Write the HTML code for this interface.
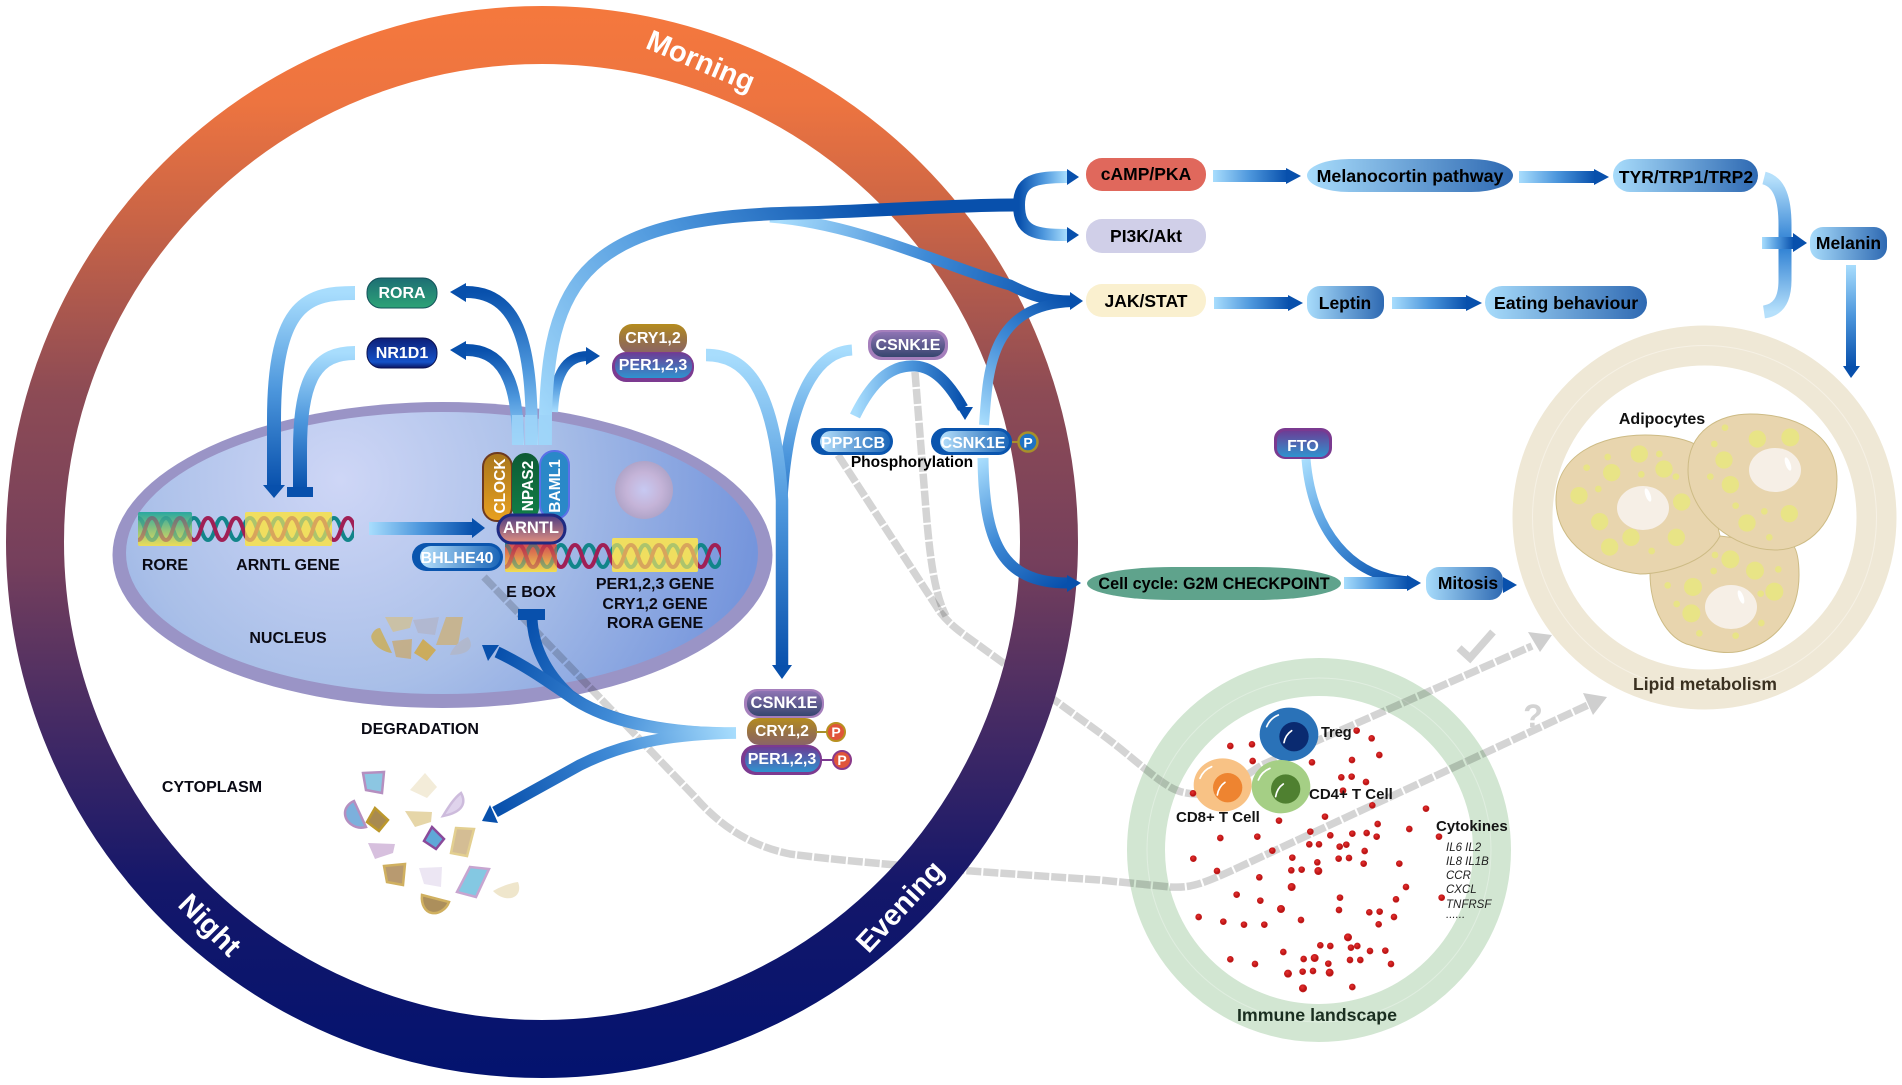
<!DOCTYPE html>
<html><head><meta charset="utf-8"><style>
html,body{margin:0;padding:0;background:#fff;width:1902px;height:1085px;overflow:hidden}
svg{display:block}
text{font-family:"Liberation Sans",sans-serif;font-weight:bold}
</style></head><body>
<svg xmlns="http://www.w3.org/2000/svg" width="1902" height="1085" viewBox="0 0 1902 1085">
<defs>
<linearGradient id="ring" gradientUnits="userSpaceOnUse" x1="0" y1="6" x2="0" y2="1078">
<stop offset="0" stop-color="#f5783d"/><stop offset=".09" stop-color="#ed7440"/><stop offset=".2" stop-color="#c96446"/><stop offset=".36" stop-color="#8d4b55"/><stop offset=".52" stop-color="#753f5c"/><stop offset=".68" stop-color="#412965"/><stop offset=".82" stop-color="#14176a"/><stop offset="1" stop-color="#03136f"/>
</linearGradient>
<radialGradient id="nuc" gradientUnits="userSpaceOnUse" cx="340" cy="480" r="420">
<stop offset="0" stop-color="#ced6f6"/><stop offset=".5" stop-color="#a9bfe8"/><stop offset="1" stop-color="#7595dc"/>
</radialGradient>
<radialGradient id="nucleolus"><stop offset="0" stop-color="#c7c9f2"/><stop offset=".6" stop-color="#c5b4d8"/><stop offset="1" stop-color="#b0a4c8"/></radialGradient>
<linearGradient id="lr"><stop offset="0" stop-color="#a8ddfd"/><stop offset=".5" stop-color="#4c96dc"/><stop offset="1" stop-color="#0850ac"/></linearGradient>
<linearGradient id="rl" x1="1" x2="0" y1="0" y2="0"><stop offset="0" stop-color="#a8ddfd"/><stop offset=".5" stop-color="#4c96dc"/><stop offset="1" stop-color="#0850ac"/></linearGradient>
<linearGradient id="td" x1="0" x2="0" y1="0" y2="1"><stop offset="0" stop-color="#a8ddfd"/><stop offset=".5" stop-color="#4c96dc"/><stop offset="1" stop-color="#0850ac"/></linearGradient>
<linearGradient id="bt" x1="0" x2="0" y1="1" y2="0"><stop offset="0" stop-color="#a8ddfd"/><stop offset=".5" stop-color="#4c96dc"/><stop offset="1" stop-color="#0850ac"/></linearGradient>
<linearGradient id="brk" x1="0" x2="0" y1="0" y2="1"><stop offset="0" stop-color="#b6e0fb"/><stop offset=".5" stop-color="#2b7ed2"/><stop offset="1" stop-color="#b6e0fb"/></linearGradient>
<linearGradient id="big" gradientUnits="userSpaceOnUse" x1="544" y1="445" x2="880" y2="207"><stop offset="0" stop-color="#a8ddfd"/><stop offset=".55" stop-color="#4c96dc"/><stop offset="1" stop-color="#0850ac"/></linearGradient>
<linearGradient id="jak" gradientUnits="userSpaceOnUse" x1="780" y1="218" x2="1070" y2="301"><stop offset="0" stop-color="#a8ddfd"/><stop offset=".5" stop-color="#3f8ad6"/><stop offset="1" stop-color="#0850ac"/></linearGradient>
<linearGradient id="up1" gradientUnits="userSpaceOnUse" x1="984" y1="425" x2="1072" y2="302"><stop offset="0" stop-color="#a8ddfd"/><stop offset=".55" stop-color="#3f8ad6"/><stop offset="1" stop-color="#0850ac"/></linearGradient>
<linearGradient id="dn1" gradientUnits="userSpaceOnUse" x1="983" y1="458" x2="1068" y2="583"><stop offset="0" stop-color="#a8ddfd"/><stop offset=".5" stop-color="#3f8ad6"/><stop offset="1" stop-color="#0850ac"/></linearGradient>
<linearGradient id="fto" gradientUnits="userSpaceOnUse" x1="1306" y1="459" x2="1400" y2="581"><stop offset="0" stop-color="#a8ddfd"/><stop offset=".5" stop-color="#4c96dc"/><stop offset="1" stop-color="#0850ac"/></linearGradient>
<linearGradient id="y1" gradientUnits="userSpaceOnUse" x1="736" y1="733" x2="500" y2="650"><stop offset="0" stop-color="#a8ddfd"/><stop offset=".5" stop-color="#3f8ad6"/><stop offset="1" stop-color="#0850ac"/></linearGradient>
<linearGradient id="y2" gradientUnits="userSpaceOnUse" x1="736" y1="733" x2="500" y2="815"><stop offset="0" stop-color="#a8ddfd"/><stop offset=".5" stop-color="#3f8ad6"/><stop offset="1" stop-color="#0850ac"/></linearGradient>
<linearGradient id="y3" gradientUnits="userSpaceOnUse" x1="736" y1="733" x2="532" y2="618"><stop offset="0" stop-color="#a8ddfd"/><stop offset=".45" stop-color="#3f8ad6"/><stop offset="1" stop-color="#0850ac"/></linearGradient>
<linearGradient id="node" x1="0" x2="1" y1="0" y2="0"><stop offset="0" stop-color="#a8dcfb"/><stop offset="1" stop-color="#2e69b2"/></linearGradient>
<linearGradient id="pbl" x1="0" x2="1"><stop offset="0" stop-color="#b6e0fb"/><stop offset="1" stop-color="#1b66b8"/></linearGradient>
<linearGradient id="rora" x1="0" x2="0" y1="0" y2="1"><stop offset="0" stop-color="#1d6e74"/><stop offset="1" stop-color="#2da377"/></linearGradient>
<linearGradient id="nr" x1="0" x2="0" y1="0" y2="1"><stop offset="0" stop-color="#0d1f78"/><stop offset=".8" stop-color="#1552c8"/><stop offset="1" stop-color="#0a1560"/></linearGradient>
<linearGradient id="cry" x1="0" x2="0" y1="0" y2="1"><stop offset="0" stop-color="#b58c1e"/><stop offset=".6" stop-color="#96704a"/><stop offset="1" stop-color="#8a6468"/></linearGradient>
<linearGradient id="per" x1="0" x2="0" y1="0" y2="1"><stop offset="0" stop-color="#6b3e96"/><stop offset="1" stop-color="#2f93cf"/></linearGradient>
<linearGradient id="csn" x1="0" x2="0" y1="0" y2="1"><stop offset="0" stop-color="#8e74b4"/><stop offset="1" stop-color="#36466f"/></linearGradient>
<linearGradient id="clk" x1="0" x2="0" y1="0" y2="1"><stop offset="0" stop-color="#a8761c"/><stop offset="1" stop-color="#e8a020"/></linearGradient>
<linearGradient id="npa" x1="0" x2="0" y1="0" y2="1"><stop offset="0" stop-color="#0d5a34"/><stop offset="1" stop-color="#128048"/></linearGradient>
<linearGradient id="arn" x1="0" x2="0" y1="0" y2="1"><stop offset="0" stop-color="#4a3a82"/><stop offset="1" stop-color="#e29080"/></linearGradient>
<linearGradient id="ebox" x1="0" x2="0" y1="0" y2="1"><stop offset="0" stop-color="#d84040" stop-opacity=".8"/><stop offset="1" stop-color="#f0de50"/></linearGradient>
<linearGradient id="rbox" x1="0" x2="0" y1="0" y2="1"><stop offset="0" stop-color="#2aa8a0"/><stop offset="1" stop-color="#ecdc58"/></linearGradient>
<pattern id="dna" patternUnits="userSpaceOnUse" width="28" height="26" x="0" y="0">
<path d="M0 2C7 2 7 24 14 24S21 2 28 2" fill="none" stroke="#12858a" stroke-width="4"/>
<path d="M0 24C7 24 7 2 14 2S21 24 28 24" fill="none" stroke="#a01f55" stroke-width="4"/>
</pattern>
<radialGradient id="dot" cx=".4" cy=".35"><stop offset="0" stop-color="#e83030"/><stop offset="1" stop-color="#b81414"/></radialGradient>
</defs>

<rect width="1902" height="1085" fill="#fff"/>

<!-- nucleus -->
<ellipse cx="442.5" cy="555" rx="330" ry="153" fill="#9a94c6"/>
<ellipse cx="442" cy="553" rx="316" ry="141" fill="url(#nuc)"/>
<circle cx="644" cy="490" r="29" fill="url(#nucleolus)"/>

<!-- satellite rings -->
<circle cx="1319" cy="850" r="173" fill="none" stroke="#d2e6d2" stroke-width="38"/>
<circle cx="1319" cy="850" r="172" fill="none" stroke="#e0eee0" stroke-width="1"/>
<circle cx="1704.5" cy="517.5" r="172" fill="none" stroke="#efe8d6" stroke-width="40"/>
<circle cx="1704.5" cy="517.5" r="172" fill="none" stroke="#f6f1e5" stroke-width="1"/>

<!-- grey dashed connectors -->
<g fill="none" stroke="#000" stroke-opacity=".17" stroke-width="7.5" stroke-dasharray="15 2">
<path d="M838 455L940 612C948 622 955 628 966 636L1100 733C1130 755 1150 775 1170 787C1180 793 1190 794 1200 794C1225 794 1245 775 1262 765L1532 646"/>
<path d="M915 372L926 510C930 560 935 595 946 616"/>
<path d="M484 577L695 797C715 820 745 845 790 854C850 862 950 870 1100 880L1170 887C1190 888 1200 885 1233 870L1588 705"/>
</g>
<polygon points="1552,635 1528,632 1540,652" fill="#cfcfcf"/>
<polygon points="1607,697 1583,693 1593,715" fill="#cfcfcf"/>
<path d="M1459 648L1470 658L1493 632" fill="none" stroke="#d3d3d3" stroke-width="7.5"/>
<text x="1533" y="727" font-size="32" text-anchor="middle" fill="#d3d3d3">?</text>

<!-- main ring -->
<circle cx="542" cy="542" r="507" fill="none" stroke="url(#ring)" stroke-width="58"/>
<text transform="translate(697 70) rotate(23)" font-size="29" fill="#fff" text-anchor="middle">Morning</text>
<text transform="translate(203 932) rotate(45)" font-size="29" fill="#fff" text-anchor="middle">Night</text>
<text transform="translate(907 913) rotate(-47)" font-size="29" fill="#fff" text-anchor="middle">Evening</text>

<!-- DNA -->
<rect x="138" y="512" width="54" height="34" rx="2" fill="url(#rbox)"/>
<rect x="245" y="512" width="87" height="34" rx="2" fill="#f0de60"/>
<g transform="translate(138 516)"><rect width="216" height="26" fill="url(#dna)"/></g>
<rect x="138" y="512" width="54" height="34" rx="2" fill="url(#rbox)" fill-opacity=".6"/>
<rect x="245" y="512" width="87" height="34" rx="2" fill="#f0de60" fill-opacity=".7"/>
<rect x="505" y="544" width="52" height="28" rx="2" fill="url(#ebox)"/>
<rect x="612" y="538" width="86" height="34" rx="2" fill="#f0de60"/>
<g transform="translate(505 543)"><rect width="216" height="26" fill="url(#dna)"/></g>
<rect x="505" y="544" width="52" height="28" rx="2" fill="url(#ebox)" fill-opacity=".6"/>
<rect x="612" y="538" width="86" height="34" rx="2" fill="#f0de60" fill-opacity=".7"/>

<!-- nucleus debris -->
<g opacity=".72">
<polygon points="385,617 413,617 410,628 393,632" fill="#d4c08c"/>
<polygon points="413,620 439,617 435,635 418,633" fill="#b2b4c8"/>
<polygon points="446,617 463,617 458,645 436,645" fill="#d0b070"/>
<path d="M380 628L392 653C380 652 368 640 372 634C374 630 377 628 380 628Z" fill="#d0ab40"/>
<polygon points="392,641 412,639 411,659 396,657" fill="#cba868"/>
<polygon points="423,639 436,650 427,661 414,653" fill="#d8a428"/>
<path d="M468 637C474 645 472 655 450 655C452 648 460 640 468 637Z" fill="#b4b6c4"/>
</g>

<!-- cytoplasm debris -->
<g stroke-width="2.5">
<polygon points="363,773 384,772 382,793 366,790" fill="#8cc6e2" stroke="#b58fc0"/>
<polygon points="425,773 437,787 427,798 410,790" fill="#f3ecd9"/>
<path d="M461 793C466 802 464 812 443 816C448 808 454 798 461 793Z" fill="#dfd3ec" stroke="#cdbbdc"/>
<path d="M354 801L366 827C355 830 345 822 345 813C345 808 349 803 354 801Z" fill="#7cb0dc" stroke="#b58fc0"/>
<polygon points="375,808 388,820 379,831 367,822" fill="#a88a50" stroke="#bc982c"/>
<polygon points="405,811 432,812 431,822 415,827" fill="#e6d6a8"/>
<polygon points="432,827 444,839 436,849 424,841" fill="#5fa8d8" stroke="#8a4a9a"/>
<polygon points="456,828 474,829 467,856 451,853" fill="#d4bd94" stroke="#e3cf90"/>
<polygon points="368,843 395,844 393,853 375,859" fill="#d7c0de"/>
<polygon points="384,866 405,864 403,885 387,882" fill="#b89a70" stroke="#d0b060"/>
<polygon points="419,868 442,867 441,887 424,884" fill="#ece6f3"/>
<polygon points="470,867 489,869 476,897 457,892" fill="#84c8e2" stroke="#c7a5d0"/>
<path d="M518 882C522 892 516 900 505 898C500 897 496 894 493 891C500 887 510 883 518 882Z" fill="#efe6cc"/>
<path d="M422 895L449 902C446 910 438 914 432 913C425 912 421 904 422 895Z" fill="#ac8f5c" stroke="#d0b060"/>
</g>

<!-- arrows -->
<g fill="none">
<path d="M355 293C310 293 274 300 274 420L274 488" stroke="url(#td)" stroke-width="14"/>
<path d="M355 353C318 353 300 375 300 450L300 490" stroke="url(#td)" stroke-width="14"/>
<path d="M518 445C518 395 510 350 466 350" stroke="url(#bt)" stroke-width="12"/>
<path d="M532 445C532 360 525 292 466 292" stroke="url(#bt)" stroke-width="12"/>
<path d="M553 412C555 375 565 356 588 356" stroke="url(#bt)" stroke-width="10"/>
<path d="M770 217C860 224 950 268 1010 285C1030 295 1045 301 1072 301" stroke="url(#jak)" stroke-width="11"/>
<path d="M545 445C545 290 570 216 800 213C880 211 950 205 1014 205" stroke="url(#big)" stroke-width="13"/>
<path d="M1067 177C1035 177 1019 180 1019 205" stroke="url(#rl)" stroke-width="12"/>
<path d="M1067 235C1035 235 1019 232 1019 205" stroke="url(#rl)" stroke-width="12"/>
<path d="M984 425C988 370 990 305 1072 302" stroke="url(#up1)" stroke-width="10"/>
<path d="M983 458C984 540 1000 583 1068 583" stroke="url(#dn1)" stroke-width="11"/>
<path d="M855 416C875 375 895 365 915 366C935 367 950 385 963 408" stroke="url(#lr)" stroke-width="11"/>
<path d="M852 350C815 352 788 400 782 500L782 560" stroke="url(#td)" stroke-width="11"/>
<path d="M706 355C745 355 775 385 782 500L782 668" stroke="url(#td)" stroke-width="12.5"/>
<path d="M1306 459C1312 530 1350 578 1410 581" stroke="url(#fto)" stroke-width="9"/>
<path d="M736 733C680 733 610 725 570 695C545 672 533 645 532 618" stroke="url(#y3)" stroke-width="11"/>
<path d="M736 733C680 733 620 728 575 700C550 683 525 665 497 652" stroke="url(#y1)" stroke-width="11.5"/>
<path d="M736 733C680 734 630 740 580 765L495 812" stroke="url(#y2)" stroke-width="11.5"/>
<path d="M1764 178C1780 182 1785 200 1785 225L1785 280C1785 300 1778 310 1764 312" stroke="url(#brk)" stroke-width="13"/>
</g>
<rect x="512" y="415" width="11" height="30" fill="#9ed3f8" opacity=".85"/>
<rect x="525" y="415" width="12" height="30" fill="#9ed3f8" opacity=".85"/>
<rect x="539" y="415" width="13" height="30" fill="#9ed3f8" opacity=".85"/>

<!-- straight gradient arrows -->
<g fill="url(#lr)">
<rect x="369" y="522" width="104" height="13"/>
<rect x="1213" y="170" width="74" height="12"/>
<rect x="1519" y="171" width="76" height="12"/>
<rect x="1214" y="297" width="75" height="12"/>
<rect x="1392" y="297" width="75" height="12"/>
<rect x="1344" y="577" width="64" height="12"/>
<rect x="1762" y="237" width="32" height="12"/>
</g>
<rect x="1846" y="265" width="10" height="102" fill="url(#td)"/>

<!-- arrow heads -->
<g fill="#0850ac">
<polygon points="263,485 285,485 274,498"/>
<rect x="287" y="487" width="26" height="10"/>
<polygon points="450,292 466,283 466,302"/>
<polygon points="450,350 466,341 466,360"/>
<polygon points="600,356 586,347 586,365"/>
<polygon points="1079,177 1067,169 1067,185"/>
<polygon points="1079,235 1067,227 1067,243"/>
<polygon points="1083,301 1070,292 1070,310"/>
<polygon points="1081,583 1067,575 1067,592"/>
<polygon points="957,407 973,407 965,420"/>
<polygon points="782,679 772,665 792,665"/>
<rect x="518" y="609" width="27" height="11"/>
<polygon points="482,645 499,645 488,661"/>
<polygon points="482,821 490,805 498,823"/>
<polygon points="485,528 472,518 472,538"/>
<polygon points="1301,176 1286,168 1286,184"/>
<polygon points="1609,177 1594,169 1594,185"/>
<polygon points="1303,303 1288,295 1288,311"/>
<polygon points="1482,303 1466,295 1466,311"/>
<polygon points="1421,583 1407,575 1407,591"/>
<polygon points="1517,585 1503,577 1503,593"/>
<polygon points="1807,243 1793,233 1793,252"/>
<polygon points="1851,378 1843,366 1860,366"/>
</g>

<!-- right nodes -->
<rect x="1086" y="158" width="120" height="33" rx="16" fill="#e0685c"/>
<text x="1146" y="180" font-size="17.5" text-anchor="middle">cAMP/PKA</text>
<rect x="1086" y="219" width="120" height="34" rx="16" fill="#d0cfe8"/>
<text x="1146" y="242" font-size="17.5" text-anchor="middle">PI3K/Akt</text>
<rect x="1086" y="284" width="120" height="33" rx="16" fill="#faf0cf"/>
<text x="1146" y="307" font-size="17.5" text-anchor="middle">JAK/STAT</text>
<rect x="1307" y="159" width="206" height="33" rx="42" ry="16.5" fill="url(#node)"/>
<text x="1410" y="182" font-size="17.8" text-anchor="middle">Melanocortin pathway</text>
<rect x="1613" y="159" width="145" height="33" rx="17" fill="url(#node)"/>
<text x="1686" y="183" font-size="17.5" text-anchor="middle">TYR/TRP1/TRP2</text>
<rect x="1810" y="227" width="77" height="33" rx="13" fill="url(#node)"/>
<text x="1848.5" y="249" font-size="17.5" text-anchor="middle">Melanin</text>
<rect x="1307" y="286" width="77" height="33" rx="13" fill="url(#node)"/>
<text x="1345" y="309" font-size="17.5" text-anchor="middle">Leptin</text>
<rect x="1485" y="286" width="162" height="33" rx="17" fill="url(#node)"/>
<text x="1566" y="309" font-size="17.8" text-anchor="middle">Eating behaviour</text>
<rect x="1087" y="567" width="254" height="33" rx="85" ry="16.5" fill="#5fa38c"/>
<text x="1214" y="589" font-size="16.2" text-anchor="middle">Cell cycle: G2M CHECKPOINT</text>
<rect x="1426" y="567" width="77" height="33" rx="13" fill="url(#node)"/>
<text x="1468" y="589" font-size="17.5" text-anchor="middle">Mitosis</text>
<rect x="1274" y="428" width="58" height="31" rx="11" fill="#7a3a90"/>
<rect x="1277" y="431" width="52" height="26" rx="9" fill="url(#per)"/>
<text x="1303" y="451" font-size="16" fill="#fff" text-anchor="middle">FTO</text>

<!-- pathway nodes -->
<rect x="367" y="278" width="70" height="30" rx="14" fill="url(#rora)" stroke="#14525a" stroke-width="1"/>
<text x="402" y="298" font-size="16" fill="#fff" text-anchor="middle">RORA</text>
<rect x="367" y="338" width="70" height="30" rx="14" fill="url(#nr)" stroke="#0a1050" stroke-width="1"/>
<text x="402" y="358" font-size="16" fill="#fff" text-anchor="middle">NR1D1</text>
<rect x="619" y="324" width="68" height="30" rx="13" fill="url(#cry)"/>
<text x="653" y="343" font-size="16" fill="#fff" text-anchor="middle">CRY1,2</text>
<rect x="612" y="352" width="82" height="30" rx="14" fill="#7c3a90"/>
<rect x="615" y="353" width="77" height="25" rx="12" fill="url(#per)"/>
<text x="653" y="370" font-size="16" fill="#fff" text-anchor="middle">PER1,2,3</text>
<rect x="868" y="330" width="80" height="30" rx="13" fill="#a57fbc"/>
<rect x="871" y="332" width="74" height="25" rx="12" fill="url(#csn)"/>
<text x="908" y="350" font-size="16" fill="#fff" text-anchor="middle">CSNK1E</text>
<rect x="811" y="428" width="82" height="27" rx="13.5" fill="#0a55ae"/>
<rect x="820" y="431" width="70" height="21" rx="10.5" fill="url(#pbl)"/>
<text x="853" y="448" font-size="16" fill="#fff" text-anchor="middle">PPP1CB</text>
<rect x="931" y="428" width="81" height="27" rx="13.5" fill="#0a55ae"/>
<rect x="940" y="431" width="69" height="21" rx="10.5" fill="url(#pbl)"/>
<text x="973" y="448" font-size="16" fill="#fff" text-anchor="middle">CSNK1E</text>
<line x1="1012" y1="442" x2="1020" y2="442" stroke="#a8902a" stroke-width="2"/>
<circle cx="1028" cy="442" r="9.5" fill="#1f72c4" stroke="#a8902a" stroke-width="2.5"/>
<text x="1028" y="447.5" font-size="14" fill="#fff" text-anchor="middle">P</text>
<text x="912" y="467" font-size="15.5" text-anchor="middle">Phosphorylation</text>
<rect x="412" y="543" width="91" height="28" rx="14" fill="#0a55ae"/>
<rect x="420" y="546" width="80" height="22" rx="11" fill="url(#pbl)"/>
<text x="457" y="563" font-size="16" fill="#fff" text-anchor="middle">BHLHE40</text>

<!-- ARNTL complex -->
<rect x="483" y="453" width="29" height="68" rx="14" fill="url(#clk)" stroke="#6e3a20" stroke-width="2"/>
<text transform="translate(505 486) rotate(-90)" font-size="15.5" fill="#fff" text-anchor="middle">CLOCK</text>
<rect x="512" y="453" width="27" height="68" rx="13.5" fill="url(#npa)"/>
<text transform="translate(533 486) rotate(-90)" font-size="15.5" fill="#fff" text-anchor="middle">NPAS2</text>
<rect x="540" y="451" width="29" height="68" rx="14" fill="#2a88c8" stroke="#5a70e8" stroke-width="2"/>
<text transform="translate(560 486) rotate(-90)" font-size="15.5" fill="#fff" text-anchor="middle">BAML1</text>
<rect x="498" y="515" width="67" height="28" rx="14" fill="url(#arn)" stroke="#1f2a82" stroke-width="3"/>
<text x="531" y="533" font-size="16.5" fill="#fff" text-anchor="middle">ARNTL</text>

<!-- bottom trio -->
<rect x="747" y="718" width="70" height="27" rx="12" fill="url(#cry)"/>
<rect x="744" y="689" width="80" height="29" rx="13" fill="#a57fbc"/>
<rect x="747" y="691" width="75" height="25" rx="12" fill="url(#csn)"/>
<text x="784" y="708" font-size="16.5" fill="#fff" text-anchor="middle">CSNK1E</text>
<text x="782" y="736" font-size="15.5" fill="#fff" text-anchor="middle">CRY1,2</text>
<rect x="741" y="745" width="81" height="30" rx="14" fill="#7c3a90"/>
<rect x="745" y="747" width="75" height="25" rx="12" fill="url(#per)"/>
<text x="782" y="764" font-size="16" fill="#fff" text-anchor="middle">PER1,2,3</text>
<line x1="816" y1="732" x2="827" y2="732" stroke="#a8902a" stroke-width="2"/>
<circle cx="836" cy="732" r="9" fill="#e0553a" stroke="#b89020" stroke-width="2"/>
<text x="836" y="737" font-size="14" fill="#fff" text-anchor="middle">P</text>
<line x1="821" y1="760" x2="833" y2="760" stroke="#7c3a90" stroke-width="2"/>
<circle cx="842" cy="760" r="9" fill="#e0553a" stroke="#8a3a8a" stroke-width="2"/>
<text x="842" y="765" font-size="14" fill="#fff" text-anchor="middle">P</text>

<!-- labels -->
<g font-size="16" text-anchor="middle" fill="#0a0a14">
<text x="165" y="570">RORE</text>
<text x="288" y="570">ARNTL GENE</text>
<text x="531" y="597">E BOX</text>
<text x="655" y="589">PER1,2,3 GENE</text>
<text x="655" y="609">CRY1,2 GENE</text>
<text x="655" y="628">RORA GENE</text>
<text x="288" y="643">NUCLEUS</text>
<text x="420" y="734">DEGRADATION</text>
<text x="212" y="792">CYTOPLASM</text>
</g>

<!-- adipocytes -->
<g stroke="#cdbb85" stroke-width="1" fill="#e8d5ae">
<path d="M1650 573C1650 610 1668 640 1690 645C1710 652 1730 655 1745 650C1780 640 1799 610 1799 575C1799 560 1797 550 1793 545L1720 536Z"/>
<path d="M1556 500C1556 455 1600 435 1645 435C1670 435 1690 440 1700 447L1720 536C1705 565 1660 574 1640 574C1600 570 1556 545 1556 500Z"/>
<path d="M1688 470C1688 430 1720 414 1750 414C1790 414 1837 430 1837 480C1837 520 1810 550 1775 550C1735 550 1688 515 1688 470Z"/>
</g>
<g transform="translate(1500 320) scale(.33333)" fill="#e8e486">
<circle cx="418" cy="402" r="26"/><circle cx="335" cy="458" r="26"/><circle cx="492" cy="447" r="26"/><circle cx="237" cy="527" r="26"/><circle cx="545" cy="546" r="26"/><circle cx="299" cy="605" r="26"/><circle cx="393" cy="652" r="26"/><circle cx="329" cy="681" r="26"/><circle cx="529" cy="652" r="26"/>
<circle cx="323" cy="411" r="10"/><circle cx="478" cy="402" r="10"/><circle cx="260" cy="443" r="10"/><circle cx="424" cy="463" r="10"/><circle cx="528" cy="470" r="10"/><circle cx="295" cy="507" r="10"/><circle cx="455" cy="693" r="10"/>
<circle cx="772" cy="357" r="26"/><circle cx="871" cy="352" r="27"/><circle cx="672" cy="420" r="26"/><circle cx="691" cy="494" r="26"/><circle cx="741" cy="609" r="26"/><circle cx="868" cy="581" r="26"/>
<circle cx="675" cy="323" r="10"/><circle cx="643" cy="372" r="10"/><circle cx="631" cy="470" r="10"/><circle cx="707" cy="557" r="10"/><circle cx="793" cy="574" r="10"/><circle cx="808" cy="652" r="10"/>
<circle cx="691" cy="718" r="27"/><circle cx="765" cy="752" r="27"/><circle cx="823" cy="815" r="27"/><circle cx="579" cy="801" r="27"/><circle cx="574" cy="880" r="27"/>
<circle cx="645" cy="705" r="10"/><circle cx="641" cy="753" r="10"/><circle cx="835" cy="748" r="10"/><circle cx="782" cy="821" r="10"/><circle cx="503" cy="796" r="10"/><circle cx="530" cy="852" r="10"/><circle cx="784" cy="909" r="10"/><circle cx="707" cy="947" r="10"/><circle cx="598" cy="940" r="10"/>
</g>
<g fill="#f6efe6"><ellipse cx="1643" cy="508" rx="26" ry="22"/><ellipse cx="1775" cy="470" rx="26" ry="22"/><ellipse cx="1731" cy="607" rx="26" ry="22"/></g>
<g fill="#fff"><ellipse cx="1648" cy="495" rx="2.5" ry="7" transform="rotate(-20 1648 495)"/><ellipse cx="1788" cy="464" rx="2.5" ry="7" transform="rotate(-20 1788 464)"/><ellipse cx="1741" cy="597" rx="2.5" ry="7" transform="rotate(-20 1741 597)"/></g>
<text x="1662" y="424" font-size="16" text-anchor="middle" fill="#111">Adipocytes</text>
<text x="1705" y="690" font-size="17.5" text-anchor="middle" fill="#3a3020">Lipid metabolism</text>

<!-- immune -->
<g transform="translate(1100 620) scale(.33333)">
<ellipse cx="567" cy="343" rx="88" ry="80" fill="#2a72b8"/><circle cx="582" cy="350" r="44" fill="#0a2a70"/>
<ellipse cx="368" cy="495" rx="87" ry="80" fill="#f8c285"/><circle cx="383" cy="503" r="44" fill="#ee8430"/>
<ellipse cx="543" cy="500" rx="88" ry="80" fill="#a5cf85"/><circle cx="557" cy="507" r="44" fill="#4f8030"/>
<g fill="none" stroke="#fff" stroke-width="5" stroke-linecap="round">
<path d="M500 320Q510 295 535 285"/><path d="M552 368Q556 345 575 332"/>
<path d="M300 475Q310 450 335 440"/><path d="M352 525Q356 500 375 487"/>
<path d="M475 480Q485 455 510 445"/><path d="M527 530Q531 505 550 492"/>
</g>
<g fill="url(#dot)" stroke="#c41e1e" stroke-width="2">
<circle cx="770" cy="332" r="9"/><circle cx="815" cy="355" r="9"/><circle cx="391" cy="378" r="9"/><circle cx="456" cy="373" r="9"/><circle cx="838" cy="405" r="9"/><circle cx="756" cy="420" r="9"/><circle cx="458" cy="423" r="9"/><circle cx="636" cy="427" r="9"/><circle cx="724" cy="472" r="9"/><circle cx="755" cy="470" r="9"/><circle cx="798" cy="486" r="9"/><circle cx="729" cy="512" r="9"/><circle cx="279" cy="520" r="9"/><circle cx="817" cy="556" r="9"/><circle cx="978" cy="566" r="9"/><circle cx="675" cy="590" r="9"/><circle cx="537" cy="602" r="9"/><circle cx="833" cy="612" r="9"/><circle cx="928" cy="627" r="9"/><circle cx="631" cy="635" r="9"/><circle cx="757" cy="641" r="9"/><circle cx="800" cy="639" r="9"/><circle cx="691" cy="646" r="9"/><circle cx="830" cy="650" r="9"/><circle cx="361" cy="654" r="9"/><circle cx="472" cy="650" r="9"/><circle cx="1017" cy="650" r="9"/><circle cx="628" cy="673" r="9"/><circle cx="657" cy="673" r="9"/><circle cx="739" cy="674" r="9"/><circle cx="719" cy="680" r="9"/><circle cx="517" cy="692" r="9"/><circle cx="794" cy="693" r="9"/><circle cx="280" cy="716" r="9"/><circle cx="577" cy="713" r="9"/><circle cx="716" cy="716" r="9"/><circle cx="747" cy="714" r="9"/><circle cx="652" cy="727" r="9"/><circle cx="791" cy="731" r="9"/><circle cx="898" cy="731" r="9"/><circle cx="351" cy="753" r="9"/><circle cx="574" cy="751" r="9"/><circle cx="605" cy="749" r="9"/><circle cx="655" cy="753" r="11"/><circle cx="478" cy="772" r="9"/><circle cx="575" cy="801" r="11"/><circle cx="918" cy="801" r="9"/><circle cx="410" cy="824" r="9"/><circle cx="720" cy="833" r="9"/><circle cx="481" cy="842" r="9"/><circle cx="888" cy="838" r="9"/><circle cx="1025" cy="833" r="9"/><circle cx="543" cy="867" r="11"/><circle cx="717" cy="870" r="9"/><circle cx="808" cy="877" r="9"/><circle cx="839" cy="875" r="9"/><circle cx="296" cy="891" r="9"/><circle cx="882" cy="891" r="9"/><circle cx="370" cy="905" r="9"/><circle cx="432" cy="914" r="9"/><circle cx="493" cy="914" r="9"/><circle cx="603" cy="900" r="9"/><circle cx="836" cy="913" r="9"/><circle cx="744" cy="952" r="11"/><circle cx="661" cy="976" r="9"/><circle cx="691" cy="978" r="9"/><circle cx="753" cy="983" r="9"/><circle cx="772" cy="978" r="9"/><circle cx="810" cy="993" r="9"/><circle cx="856" cy="992" r="9"/><circle cx="550" cy="996" r="9"/><circle cx="391" cy="1018" r="9"/><circle cx="611" cy="1017" r="9"/><circle cx="644" cy="1014" r="11"/><circle cx="750" cy="1020" r="9"/><circle cx="781" cy="1020" r="9"/><circle cx="685" cy="1031" r="9"/><circle cx="465" cy="1032" r="9"/><circle cx="873" cy="1032" r="9"/><circle cx="608" cy="1055" r="9"/><circle cx="639" cy="1053" r="9"/><circle cx="689" cy="1058" r="11"/><circle cx="564" cy="1061" r="11"/><circle cx="609" cy="1105" r="11"/><circle cx="757" cy="1101" r="9"/>
</g>
</g>
<g fill="#141414">
<text x="1321" y="737" font-size="14.5">Treg</text>
<text x="1309" y="799" font-size="15">CD4+ T Cell</text>
<text x="1176" y="822" font-size="15">CD8+ T Cell</text>
<text x="1436" y="831" font-size="15">Cytokines</text>
</g>
<g font-size="11.5" fill="#222" style="font-style:italic">
<text x="1446" y="851" style="font-weight:normal">IL6 IL2</text>
<text x="1446" y="865" style="font-weight:normal">IL8 IL1B</text>
<text x="1446" y="879" style="font-weight:normal">CCR</text>
<text x="1446" y="893" style="font-weight:normal">CXCL</text>
<text x="1446" y="908" style="font-weight:normal">TNFRSF</text>
<text x="1446" y="918" style="font-weight:normal">......</text>
</g>
<text x="1317" y="1021" font-size="17.8" text-anchor="middle" fill="#1a2e20">Immune landscape</text>
</svg>
</body></html>
